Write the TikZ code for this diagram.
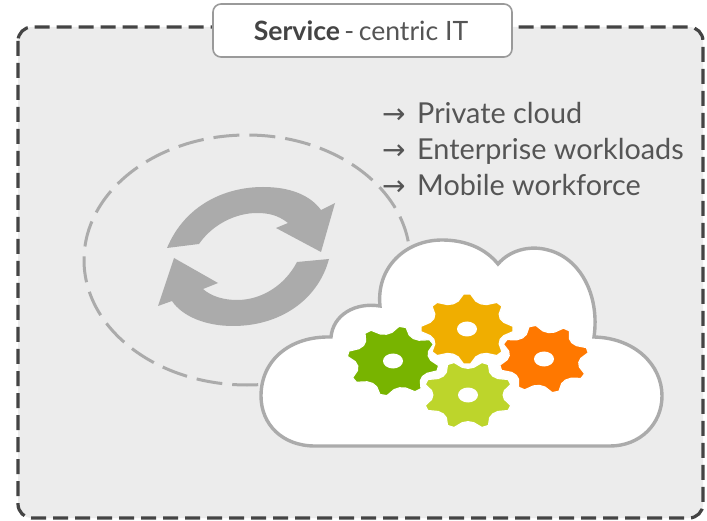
\documentclass[tikz,border=0pt]{standalone}
\usepackage{fontspec}
\setmainfont{Lato}
\newfontfamily\arrowfont{DejaVu Sans}
\definecolor{panel}{HTML}{ECECEC}
\definecolor{framec}{HTML}{444444}
\definecolor{swirl}{HTML}{ABABAB}
\definecolor{cloudedge}{HTML}{ABABAB}
\definecolor{ink}{HTML}{555555}
\definecolor{gearamber}{HTML}{F0AE00}
\definecolor{geargreen}{HTML}{78B400}
\definecolor{gearorange}{HTML}{FF7800}
\definecolor{gearlime}{HTML}{BDD52B}
% #1,#2 centre, #3 x radius, #4 colour, #5 rotation
\newcommand{\cogwheel}[5]{%
  \fill[#4,draw=white,line width=1.2,line join=round] plot[samples at={0,...,39}] ({#1+#3*((mod(\x,5)==0||mod(\x,5)==1)?1:((mod(\x,5)==2||mod(\x,5)==4)?0.82:0.78))*cos(\x*9+#5)},
    {#2+0.76*#3*((mod(\x,5)==0||mod(\x,5)==1)?1:((mod(\x,5)==2||mod(\x,5)==4)?0.82:0.78))*sin(\x*9+#5)}) -- cycle;
  \fill[white] (#1,#2) ellipse[x radius=10,y radius=7.5];
}
\newcommand{\listarrow}{\makebox[35pt][l]{\arrowfont\fontsize{28}{30}\selectfont →}}
\tikzset{
  listitem/.style={anchor=base west,inner sep=0pt,text=ink,font=\fontsize{28.8}{32}\selectfont},
  swirlarrow/.style={fill=swirl,draw=none}
}
\begin{document}
\begin{tikzpicture}[x=1pt,y=-1pt]
\useasboundingbox (0,0) rectangle (707,521);
\fill[white] (0,0) rectangle (707,521);
\draw[fill=panel,draw=framec,line width=3.2,dash pattern=on 15 off 7,rounded corners=14] (18,27) rectangle (703,518);
\node[draw=cloudedge!90!black,fill=white,line width=1.6,rounded corners=8,minimum width=299,minimum height=53,inner sep=0pt,text=ink,font=\fontsize{26.6}{30}\selectfont] (title) at (362.5,30.5) {\hspace{-3pt}\textcolor{framec}{\textbf{Service}}\,-\,centric IT};
\draw[cloudedge,line width=3,dash pattern=on 26 off 10] (247,260) ellipse[x radius=163,y radius=125];
\fill[swirlarrow] (167,248) .. controls (185,205) and (225,187) .. (263,187) .. controls (290,187) and (310,195) .. (321,210) -- (335,203) -- (321,252) -- (276,228) -- (288,223) .. controls (278,215) and (268,213) .. (257,213) .. controls (235,213) and (212,225) .. (199,244) -- cycle;
\fill[swirlarrow] (329,259) .. controls (318,300) and (280,326) .. (233,326) .. controls (205,326) and (182,316) .. (172,301) -- (158,306) -- (174,258) -- (218,283) -- (203,289) .. controls (212,297) and (225,300) .. (237,300) .. controls (262,300) and (285,285) .. (297,262) -- cycle;
\node[listitem] (l1) at (382,124) {\listarrow Private cloud};
\node[listitem] (l2) at (382,160) {\listarrow Enterprise workloads};
\node[listitem] (l3) at (382,196) {\listarrow Mobile workforce};
\draw[fill=white,draw=cloudedge,line width=3.4] (315,446)
  .. controls (282,446) and (261,424) .. (261,396)
  .. controls (261,360) and (290,336) .. (331,337)
  .. controls (333,315) and (355,302) .. (380,306)
  .. controls (376,268) and (405,240) .. (442,240)
  .. controls (465,240) and (485,248) .. (498,264)
  .. controls (510,250) and (530,245) .. (548,250)
  .. controls (580,258) and (600,295) .. (594,337)
  .. controls (635,338) and (662,365) .. (662,396)
  .. controls (662,424) and (640,446) .. (610,446) -- cycle;
\cogwheel{393}{361}{46}{geargreen}{7.5}
\cogwheel{544}{359}{45}{gearorange}{-19.5}
\cogwheel{468}{395}{45}{gearlime}{18}
\cogwheel{467}{329}{46}{gearamber}{-4.5}
\end{tikzpicture}
\end{document}
